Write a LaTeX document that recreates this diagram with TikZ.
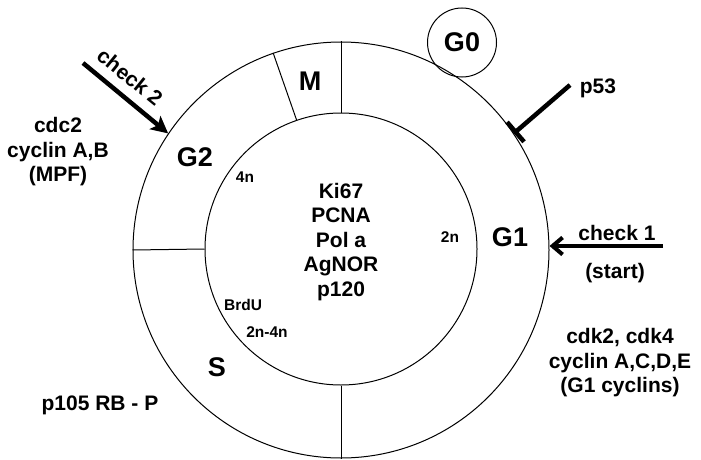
\documentclass[tikz,border=0pt]{standalone}
\usepackage{fontspec}
\setmainfont{Liberation Sans}
\usetikzlibrary{arrows.meta}
\begin{document}
\begin{tikzpicture}[x=1pt,y=1pt,
  big/.style={font=\fontsize{27}{30}\selectfont\bfseries},
  med/.style={font=\fontsize{21}{24.5}\selectfont\bfseries, align=center},
  small/.style={font=\fontsize{15.5}{18}\selectfont\bfseries},
  ring/.style={draw, circle, inner sep=0pt, line width=1pt},
  thick arrow/.style={line width=4.5pt},
  divider/.style={line width=1pt}]
\useasboundingbox (0,0) rectangle (701,459);
% cell-cycle rings
\node[ring, minimum size=416pt] (outer) at (341,209) {};
\node[ring, minimum size=272pt] (inner) at (341,210) {};
\draw[divider] (inner.90) -- (outer.90);
\draw[divider] (inner.109) -- (outer.109);
\draw[divider] (inner.180) -- (outer.180);
\draw[divider] (inner.270) -- (outer.270);
% G0
\node[ring, minimum size=69pt, big] (g0) at (462,416.5) {G0};
% phase labels
\node[big] (m) at (310,378) {M};
\node[big] (g2) at (195,302) {G2};
\node[big] (g1) at (510,222) {G1};
\node[big] (s) at (217,92) {S};
% inner labels
\node[small] (n4) at (245,282) {4n};
\node[small] (n2) at (450,222) {2n};
\node[small] (brdu) at (243,154) {BrdU};
\node[small] (n24) at (267,127) {2n-4n};
\node[med] (markers) at (341,217) {Ki67\\PCNA\\Pol a\\AgNOR\\p120};
% outer texts
\node[med] (cdc) at (58,307) {cdc2\\cyclin A,B\\(MPF)};
\node[med] (cdk) at (620,96) {cdk2, cdk4\\cyclin A,C,D,E\\(G1 cyclins)};
\node[med] (rb) at (100,54) {p105 RB - P};
\node[med] (p53) at (598,371) {p53};
\node[med] (chk1) at (617,226) {check 1};
\node[med] (start) at (615,186) {(start)};
\node[med, rotate=-39] (chk2) at (130,382) {check 2};
% connectors
\coordinate (p53s) at (570,374);
\draw[thick arrow, -{Bar[width=26pt, line width=4.5pt]}] (p53s) -- (outer.34);
\coordinate (c1s) at (663,213);
\draw[thick arrow, -{Straight Barb[length=10pt, width=17pt, line width=4pt]}] (c1s) -- (c1s -| outer.east);
\coordinate (c2s) at (83,396);
\draw[thick arrow, -{Stealth[length=17pt, width=17pt, inset=4pt]}] (c2s) -- (outer.146);
\end{tikzpicture}
\end{document}
